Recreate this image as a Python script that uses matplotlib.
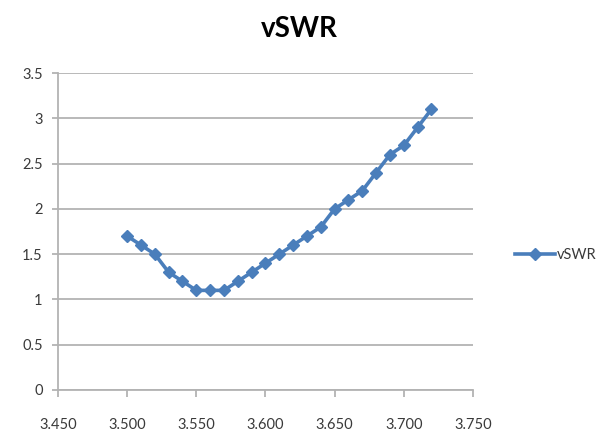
import matplotlib
matplotlib.use("Agg")
import matplotlib.pyplot as plt
from matplotlib.lines import Line2D

plt.rcParams['font.family'] = ['Lato', 'DejaVu Sans']

freq = [3.500, 3.510, 3.520, 3.530, 3.540, 3.550, 3.560, 3.570, 3.580, 3.590,
        3.600, 3.610, 3.620, 3.630, 3.640, 3.650, 3.660, 3.670, 3.680, 3.690,
        3.700, 3.710, 3.720]
vswr = [1.7, 1.6, 1.5, 1.3, 1.2, 1.1, 1.1, 1.1, 1.2, 1.3,
        1.4, 1.5, 1.6, 1.7, 1.8, 2.0, 2.1, 2.2, 2.4, 2.6,
        2.7, 2.9, 3.1]
x_ticks = [3.450, 3.500, 3.550, 3.600, 3.650, 3.700, 3.750]
y_ticks = [0, 0.5, 1, 1.5, 2, 2.5, 3, 3.5]
series_name = "vSWR"

line_color = "#4a7ebb"
grid_color = "#b3b3b3"
text_color = "#3a3a3a"

fig = plt.figure(figsize=(5.99, 4.38), dpi=100)
ax = fig.add_axes([0.0968, 0.1096, 0.6928, 0.7237])

ax.plot(freq, vswr, color=line_color, lw=2.6, marker='D', ms=6.2,
        mec=line_color, mfc=line_color)

ax.set_xlim(x_ticks[0], x_ticks[-1])
ax.set_ylim(y_ticks[0], y_ticks[-1])
ax.set_xticks(x_ticks)
ax.set_xticklabels([f"{v:.3f}" for v in x_ticks])
ax.set_yticks(y_ticks)
ax.set_yticklabels([f"{v:g}" for v in y_ticks])

ax.yaxis.grid(True, color=grid_color, lw=1.3)
ax.set_axisbelow(True)
for side in ('top', 'right'):
    ax.spines[side].set_visible(False)
for side in ('left', 'bottom'):
    ax.spines[side].set_color(grid_color)
    ax.spines[side].set_linewidth(1.3)
ax.tick_params(axis='both', colors=grid_color, width=1.3,
               labelcolor=text_color, labelsize=10.5)
ax.tick_params(axis='x', length=5, pad=15)
ax.tick_params(axis='y', length=4, pad=7)

fig.text(0.5, 0.933, series_name, ha='center', va='center',
         fontsize=20, fontweight='bold', color='black')

handle = Line2D([], [], color=line_color, lw=2.6, marker='D', ms=6.2,
                mec=line_color, mfc=line_color)
fig.legend([handle], [series_name], loc='center left',
           bbox_to_anchor=(0.86, 0.418), frameon=False, fontsize=10.5,
           borderpad=0, borderaxespad=0,
           handlelength=2.7, handletextpad=0.15, labelcolor=text_color)

fig.savefig("out.png", dpi=100)
